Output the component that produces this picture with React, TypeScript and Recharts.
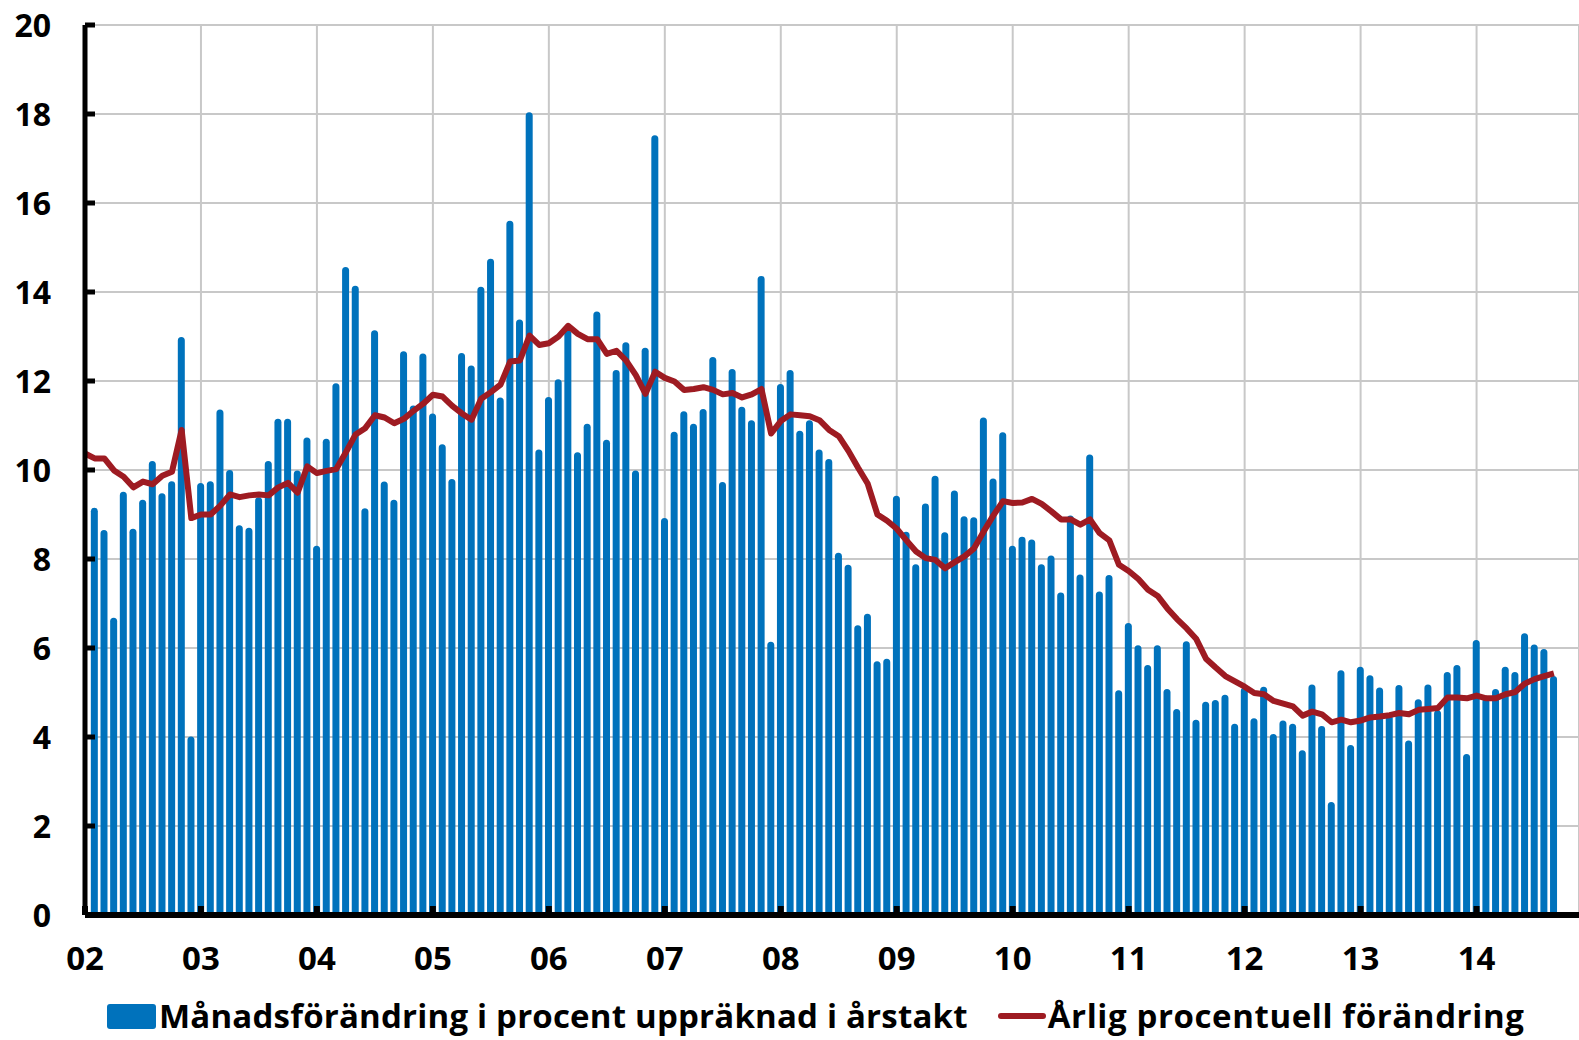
import React from 'react';
import { ComposedChart, Bar, Line, XAxis, YAxis, CartesianGrid } from 'recharts';

const C = {
  bar: '#0072BC',
  line: '#9E1B22',
  grid: '#C8C8C8',
  axis: '#000',
  font: '"Open Sans", Lato, "DejaVu Sans", sans-serif',
};

// Månadsförändring i procent uppräknad i årstakt (month 1..152 from Jan 2002)
const monthly = [
  9.15, 8.65, 6.68, 9.51, 8.68, 9.33, 10.2, 9.48, 9.75, 12.99, 4.01, 9.71,
  9.75, 11.36, 10.0, 8.76, 8.7, 9.39, 10.2, 11.15, 11.15, 9.99, 10.73, 8.3,
  10.7, 11.95, 14.56, 14.14, 9.14, 13.14, 9.74, 9.33, 12.67, 11.45, 12.62, 11.27,
  10.58, 9.8, 12.63, 12.35, 14.12, 14.75, 11.63, 15.6, 13.38, 18.04, 10.46, 11.64,
  12.04, 13.14, 10.4, 11.04, 13.56, 10.68, 12.25, 12.87, 9.99, 12.75, 17.52, 8.92,
  10.86, 11.32, 11.04, 11.37, 12.54, 9.73, 12.27, 11.42, 11.12, 14.36, 6.14, 11.93,
  12.25, 10.88, 11.12, 10.46, 10.25, 8.14, 7.87, 6.51, 6.77, 5.7, 5.76, 9.42,
  8.61, 7.88, 9.25, 9.87, 8.6, 9.54, 8.96, 8.94, 11.18, 9.81, 10.85, 8.3,
  8.5, 8.44, 7.88, 8.08, 7.25, 8.98, 7.65, 10.35, 7.27, 7.64, 5.05, 6.56,
  6.06, 5.62, 6.06, 5.08, 4.63, 6.15, 4.39, 4.79, 4.83, 4.95, 4.3, 5.11,
  4.42, 5.13, 4.07, 4.37, 4.3, 3.7, 5.18, 4.25, 2.54, 5.5, 3.82, 5.58,
  5.39, 5.11, 4.5, 5.17, 3.92, 4.85, 5.18, 4.6, 5.46, 5.62, 3.62, 6.18,
  4.87, 5.08, 5.58, 5.46, 6.33, 6.08, 5.98, 5.37,
];

// Årlig procentuell förändring (month 0..152)
const yearly = [
  10.37, 10.26, 10.26, 9.99, 9.85, 9.61, 9.74, 9.68, 9.87, 9.96, 10.9, 8.92,
  9.0, 9.0, 9.2, 9.45, 9.39, 9.43, 9.45, 9.43, 9.61, 9.71, 9.49, 10.08,
  9.93, 9.98, 10.02, 10.4, 10.8, 10.94, 11.23, 11.18, 11.05, 11.15, 11.33, 11.49,
  11.69, 11.65, 11.44, 11.27, 11.13, 11.6, 11.75, 11.92, 12.44, 12.46, 13.02, 12.81,
  12.85, 13.0, 13.24, 13.06, 12.94, 12.94, 12.61, 12.68, 12.46, 12.13, 11.71, 12.21,
  12.07, 11.99, 11.8, 11.82, 11.86, 11.8, 11.7, 11.73, 11.63, 11.7, 11.82, 10.82,
  11.1, 11.25, 11.23, 11.21, 11.12, 10.9, 10.76, 10.43, 10.05, 9.69, 9.0, 8.86,
  8.68, 8.42, 8.17, 8.02, 7.98, 7.79, 7.93, 8.06, 8.24, 8.62, 8.98, 9.3,
  9.26, 9.27, 9.35, 9.24, 9.07, 8.89, 8.89, 8.77, 8.89, 8.58, 8.42, 7.87,
  7.73, 7.55, 7.31, 7.17, 6.89, 6.65, 6.44, 6.2, 5.76, 5.56, 5.37, 5.25,
  5.13, 4.99, 4.96, 4.81, 4.75, 4.69, 4.48, 4.57, 4.51, 4.33, 4.39, 4.33,
  4.37, 4.44, 4.46, 4.49, 4.54, 4.51, 4.61, 4.63, 4.65, 4.89, 4.89, 4.87,
  4.93, 4.87, 4.87, 4.96, 5.01, 5.2, 5.3, 5.37, 5.43,
];

const yearTicks = [0, 12, 24, 36, 48, 60, 72, 84, 96, 108, 120, 132, 144];
const yearLabels = ['02', '03', '04', '05', '06', '07', '08', '09', '10', '11', '12', '13', '14'];
const yTicks = [0, 2, 4, 6, 8, 10, 12, 14, 16, 18, 20];

const barName = 'Månadsförändring i procent uppräknad i årstakt';
const lineName = 'Årlig procentuell förändring';

const rows = yearly.map((v, k) => ({
  m: k,
  line: v,
  bar: k >= 1 ? monthly[k - 1] : null,
}));

const YTick = (props: any) => {
  const { x, y, payload } = props;
  const ax = x + 34;
  return (
    <g>
      <line x1={ax} x2={ax + 10} y1={y} y2={y} stroke={C.axis} strokeWidth={5} />
      <text x={x} y={y} dy="0.36em" textAnchor="end" fontFamily={C.font} fontWeight={700} fontSize={32} fill="#000">
        {payload.value}
      </text>
    </g>
  );
};

const XTick = (props: any) => {
  const { x, y, payload } = props;
  const ay = y - 32;
  const i = yearTicks.indexOf(payload.value);
  return (
    <g>
      <line x1={x} x2={x} y1={ay} y2={ay - 9} stroke={C.axis} strokeWidth={6} />
      <text x={x} y={y} dy="0.71em" textAnchor="middle" fontFamily={C.font} fontWeight={700} fontSize={33} fill="#000">
        {yearLabels[i]}
      </text>
    </g>
  );
};

export default function App() {
  return (
    <div style={{ position: 'absolute', left: 0, top: 0, width: 1579, height: 1040, background: '#fff', overflow: 'hidden' }}>
      <ComposedChart width={1579} height={1040} data={rows} margin={{ top: 25, right: 0, bottom: 0, left: 0 }}>
        <CartesianGrid stroke={C.grid} strokeWidth={2} />
        <XAxis
          type="number"
          dataKey="m"
          domain={[0, 154.6]}
          ticks={yearTicks}
          height={125}
          tickSize={0}
          tickMargin={32}
          axisLine={{ stroke: C.axis, strokeWidth: 6 }}
          tickLine={false}
          tick={<XTick />}
          interval={0}
          allowDataOverflow
        />
        <YAxis
          type="number"
          domain={[0, 20]}
          ticks={yTicks}
          width={85}
          tickSize={0}
          tickMargin={34}
          axisLine={{ stroke: C.axis, strokeWidth: 5 }}
          tickLine={false}
          tick={<YTick />}
          interval={0}
        />
        <Bar dataKey="bar" name={barName} fill={C.bar} barSize={7} radius={[3.5, 3.5, 0, 0]} isAnimationActive={false} />
        <Line
          dataKey="line"
          name={lineName}
          type="linear"
          stroke={C.line}
          strokeWidth={6}
          dot={false}
          strokeLinejoin="round"
          isAnimationActive={false}
        />
      </ComposedChart>
      <div
        style={{
          position: 'absolute',
          left: 107,
          top: 994,
          height: 44,
          display: 'flex',
          alignItems: 'center',
          fontFamily: C.font,
          fontWeight: 700,
          fontSize: 33,
          lineHeight: '44px',
          color: '#000',
          whiteSpace: 'nowrap',
        }}
      >
        <span style={{ display: 'inline-block', width: 49, height: 25, background: C.bar, borderRadius: 3, marginRight: 3 }} />
        <span style={{ letterSpacing: 0.2 }}>{barName}</span>
        <span
          style={{
            display: 'inline-block',
            width: 48,
            height: 6,
            background: C.line,
            borderRadius: 3,
            marginLeft: 30,
            marginRight: 2,
          }}
        />
        <span style={{ letterSpacing: 0.6 }}>{lineName}</span>
      </div>
    </div>
  );
}
